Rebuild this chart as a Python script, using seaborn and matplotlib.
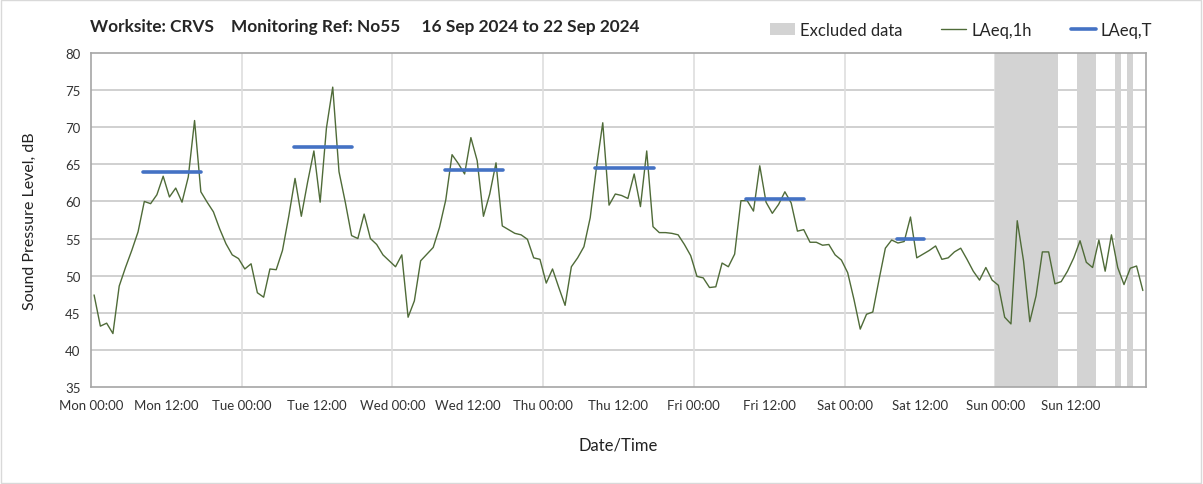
import matplotlib
matplotlib.use("Agg")
import matplotlib.pyplot as plt
from matplotlib.patches import Patch, Rectangle
from matplotlib.lines import Line2D
import numpy as np
import pandas as pd
import seaborn as sns

# hourly LAeq,1h values, one list per day (Mon 16 Sep .. Sun 22 Sep 2024)
mon = [47.4, 43.2, 43.6, 42.2, 48.6, 51.1, 53.4, 55.9, 60.0, 59.7, 60.9, 63.4,
       60.6, 61.8, 59.9, 63.3, 70.9, 61.3, 59.9, 58.6, 56.3, 54.3, 52.8, 52.3]
tue = [50.9, 51.6, 47.7, 47.1, 50.9, 50.8, 53.4, 58.0, 63.1, 58.0, 62.6, 66.8,
       59.9, 69.9, 75.4, 64.0, 59.9, 55.4, 55.0, 58.3, 55.0, 54.2, 52.8, 52.0]
wed = [51.2, 52.8, 44.4, 46.6, 52.0, 52.9, 53.8, 56.5, 60.2, 66.3, 65.1, 63.7,
       68.6, 65.5, 58.0, 61.0, 65.2, 56.7, 56.2, 55.7, 55.5, 54.9, 52.4, 52.2]
thu = [49.0, 50.9, 48.4, 46.0, 51.2, 52.4, 53.9, 57.8, 64.6, 70.6, 59.5, 61.0,
       60.8, 60.4, 63.7, 59.3, 66.8, 56.6, 55.8, 55.8, 55.7, 55.5, 54.2, 52.7]
fri = [49.9, 49.7, 48.4, 48.5, 51.7, 51.2, 52.9, 60.1, 60.1, 58.7, 64.8, 59.9,
       58.4, 59.6, 61.3, 59.8, 56.0, 56.2, 54.5, 54.5, 54.1, 54.2, 52.8, 52.1]
sat = [50.4, 46.8, 42.8, 44.8, 45.1, 49.5, 53.7, 54.8, 54.4, 54.6, 57.9, 52.4,
       52.9, 53.4, 54.0, 52.2, 52.4, 53.2, 53.7, 52.2, 50.6, 49.4, 51.1, 49.4]
sun = [48.7, 44.4, 43.5, 57.4, 52.0, 43.8, 47.3, 53.2, 53.2, 48.9, 49.2, 50.6,
       52.4, 54.7, 51.8, 51.1, 54.8, 50.6, 55.5, 51.1, 48.8, 51.0, 51.3, 48.0]

# LAeq,T per period (hours from Mon 00:00)
period_start = [8.3, 32.3, 56.3, 80.3, 104.3, 128.4]
period_end = [17.6, 41.6, 65.6, 89.6, 113.6, 132.6]
period_level = [63.9, 67.4, 64.3, 64.5, 60.3, 54.9]

# excluded data intervals (hours from Mon 00:00)
excl_start = [144, 157, 163, 165]
excl_end = [154, 160, 164, 166]

tick_labels = ["Mon 00:00", "Mon 12:00", "Tue 00:00", "Tue 12:00", "Wed 00:00",
               "Wed 12:00", "Thu 00:00", "Thu 12:00", "Fri 00:00", "Fri 12:00",
               "Sat 00:00", "Sat 12:00", "Sun 00:00", "Sun 12:00", ""]

GREEN = "#4f6b38"
BLUE = "#4472c4"
GREY = "#d3d3d3"

sns.set_theme(style="white")
plt.rcParams["font.family"] = ["Lato", "DejaVu Sans"]

levels = mon + tue + wed + thu + fri + sat + sun
df = pd.DataFrame({"hour": np.arange(len(levels)) + 0.5, "LAeq": levels})

fig = plt.figure(figsize=(12.03, 4.85), dpi=100)
ax = fig.add_axes([0.0756, 0.2, 0.877, 0.6887])

for s, e in zip(excl_start, excl_end):
    ax.axvspan(s, e, color=GREY, lw=0, zorder=1)

sns.lineplot(data=df, x="hour", y="LAeq", color=GREEN, lw=1.0, ax=ax, zorder=3)

for s, e, v in zip(period_start, period_end, period_level):
    ax.plot([s, e], [v, v], color=BLUE, lw=2.6, solid_capstyle="round", zorder=4)

ax.set_xlim(0, 168)
ax.set_ylim(35, 80)
ax.set_yticks(range(35, 81, 5))
ax.set_xticks(range(0, 169, 12))
ax.set_xticklabels(tick_labels, fontsize=9.5, color="#333333")
ax.tick_params(axis="y", labelsize=9.5, labelcolor="#333333")
ax.tick_params(axis="both", length=4, width=0.8, color="#a0a0a0", direction="out")
ax.tick_params(axis="x", pad=5)

# horizontal grid at each 5 dB, vertical grid only at midnight
for yv in range(40, 80, 5):
    ax.axhline(yv, color="#c8c8c8", lw=1.2, zorder=0)
for xv in range(24, 168, 24):
    ax.axvline(xv, color="#dedede", lw=1.2, zorder=0)

for sp in ax.spines.values():
    sp.set_color("#a6a6a6")
    sp.set_linewidth(1.2)

ax.set_xlabel("Date/Time", fontsize=12, labelpad=18, color="#222222")
ax.set_ylabel("Sound Pressure Level, dB", fontsize=11.5, labelpad=20, color="#222222")

fig.text(0.075, 0.944, "Worksite: CRVS    Monitoring Ref: No55     16 Sep 2024 to 22 Sep 2024",
         fontsize=12.4, fontweight="bold", ha="left", va="center")

handles = [Patch(facecolor=GREY, edgecolor="none"),
           Line2D([], [], color=GREEN, lw=1.0),
           Line2D([], [], color=BLUE, lw=2.6)]
fig.legend(handles, ["Excluded data", "LAeq,1h", "LAeq,T"], loc="center right",
           bbox_to_anchor=(0.958, 0.936), ncol=3, frameon=False, fontsize=12,
           handlelength=1.5, columnspacing=2.35, handletextpad=0.3,
           borderaxespad=0.0, borderpad=0.0)

fig.add_artist(Rectangle((0.001, 0.003), 0.997, 0.994, transform=fig.transFigure,
                         fill=False, edgecolor="#d9d9d9", lw=1.0))

fig.savefig("out.png", dpi=100)
